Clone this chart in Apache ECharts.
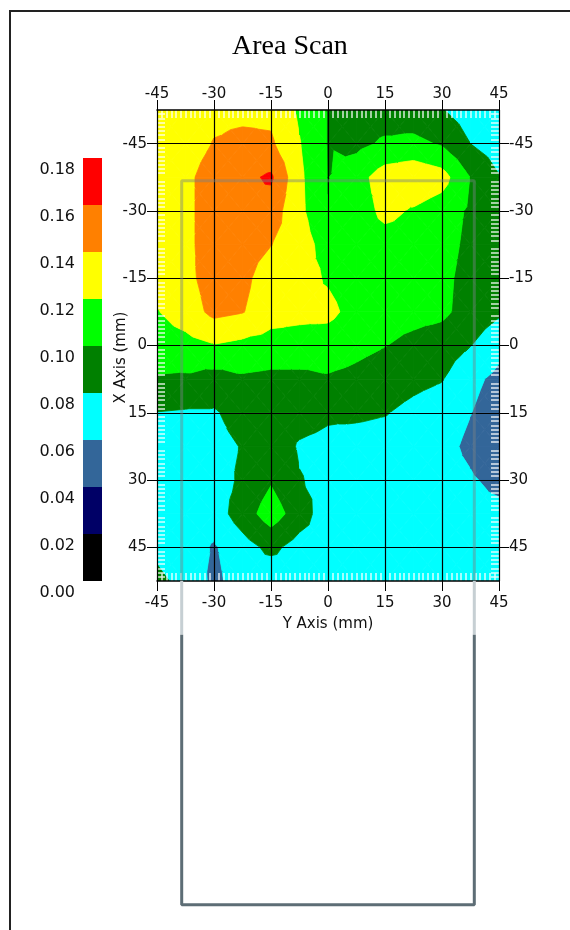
<!DOCTYPE html>
<html>
<head>
<meta charset="utf-8">
<script src="https://cdn.jsdelivr.net/npm/echarts@6/dist/echarts.min.js"></script>
<style>
html, body { margin: 0; padding: 0; background: #fff; }
#chart { width: 570px; height: 930px; }
</style>
</head>
<body>
<div id="chart"></div>
<script>
// scan grid positions (mm)
const colPos = [-45, -37.5, -30, -22.5, -15, -7.5, 0, 7.5, 15, 22.5, 30, 37.5, 45];
const rowPos = [-52.5, -45, -37.5, -30, -22.5, -15, -7.5, 0, 7.5, 15, 22.5, 30, 37.5, 45, 52.5];

// measured values, one array per scan row (rowPos order), columns follow colPos
const row00 = [0.130, 0.130, 0.135, 0.135, 0.135, 0.117, 0.099, 0.090, 0.090, 0.088, 0.081, 0.070, 0.065];
const row01 = [0.128, 0.130, 0.141, 0.145, 0.143, 0.121, 0.099, 0.095, 0.103, 0.105, 0.098, 0.080, 0.070];
const row02 = [0.130, 0.135, 0.150, 0.155, 0.163, 0.124, 0.0995, 0.112, 0.130, 0.135, 0.128, 0.0995, 0.081];
const row03 = [0.128, 0.135, 0.150, 0.155, 0.150, 0.125, 0.1005, 0.110, 0.125, 0.118, 0.110, 0.097, 0.085];
const row04 = [0.127, 0.135, 0.150, 0.148, 0.1405, 0.130, 0.111, 0.110, 0.112, 0.112, 0.108, 0.095, 0.085];
const row05 = [0.125, 0.135, 0.148, 0.145, 0.130, 0.127, 0.118, 0.110, 0.110, 0.108, 0.105, 0.093, 0.083];
const row06 = [0.119, 0.130, 0.145, 0.141, 0.128, 0.125, 0.125, 0.113, 0.108, 0.106, 0.104, 0.092, 0.083];
const row07 = [0.110, 0.113, 0.119, 0.115, 0.112, 0.112, 0.110, 0.105, 0.1005, 0.095, 0.090, 0.0805, 0.066];
const row08 = [0.098, 0.097, 0.092, 0.097, 0.095, 0.095, 0.098, 0.095, 0.090, 0.085, 0.081, 0.065, 0.055];
const row09 = [0.0795, 0.078, 0.078, 0.088, 0.090, 0.088, 0.083, 0.083, 0.081, 0.075, 0.070, 0.0605, 0.050];
const row10 = [0.075, 0.072, 0.074, 0.081, 0.092, 0.078, 0.075, 0.073, 0.072, 0.070, 0.066, 0.056, 0.045];
const row11 = [0.072, 0.070, 0.072, 0.083, 0.098, 0.081, 0.075, 0.072, 0.071, 0.070, 0.068, 0.062, 0.055];
const row12 = [0.070, 0.070, 0.070, 0.090, 0.110, 0.090, 0.068, 0.070, 0.070, 0.070, 0.069, 0.066, 0.065];
const row13 = [0.077, 0.070, 0.058, 0.072, 0.085, 0.072, 0.070, 0.070, 0.070, 0.070, 0.070, 0.070, 0.068];
const row14 = [0.083, 0.076, 0.055, 0.070, 0.065, 0.070, 0.070, 0.070, 0.070, 0.070, 0.070, 0.070, 0.070];
const scanRows = [row00, row01, row02, row03, row04, row05, row06, row07,
                  row08, row09, row10, row11, row12, row13, row14];

// contour levels and band colours (legend)
const levels = [0, 0.02, 0.04, 0.06, 0.08, 0.10, 0.12, 0.14, 0.16, 0.18];
const levelColors = ['#000000', '#000066', '#336699', '#00ffff', '#008000',
                     '#00ff00', '#ffff00', '#ff8000', '#ff0000'];

const tickValues = [-45, -30, -15, 0, 15, 30, 45];

// outline of the part under the scan (mm)
const partInside = [[-38.5, 52.5], [-38.5, -36.7], [38.5, -36.7], [38.5, 52.5]];
const partNear = [[-38.5, 52.5], [-38.5, 64.5], '-', [38.5, 52.5], [38.5, 64.5]];
const partLow = [[-38.5, 64.5], [-38.5, 124.7], [38.5, 124.7], [38.5, 64.5]];

const cells = [];
for (let r = 0; r < rowPos.length - 1; r++) {
    for (let c = 0; c < colPos.length - 1; c++) {
        cells.push([colPos[c], rowPos[r], c, r]);
    }
}
const bands = levelColors.map((col, k) => [0, levels[k], levels[k + 1], k]);

// keep the part of a polygon (points [x, y, v]) above / below level t
function clip(poly, t, keepAbove) {
    const out = [];
    const n = poly.length;
    for (let i = 0; i < n; i++) {
        const a = poly[i], b = poly[(i + 1) % n];
        const ina = keepAbove ? a[2] >= t : a[2] < t;
        const inb = keepAbove ? b[2] >= t : b[2] < t;
        if (ina) out.push(a);
        if (ina !== inb) {
            const f = (t - a[2]) / (b[2] - a[2]);
            out.push([a[0] + f * (b[0] - a[0]), a[1] + f * (b[1] - a[1]), t]);
        }
    }
    return out;
}

function renderCell(params, api) {
    const c = api.value(2), r = api.value(3);
    const pt = (ci, ri) => [colPos[ci], rowPos[ri], scanRows[ri][ci]];
    const p00 = pt(c, r), p10 = pt(c + 1, r), p11 = pt(c + 1, r + 1), p01 = pt(c, r + 1);
    const mid = [(p00[0] + p11[0]) / 2, (p00[1] + p11[1]) / 2,
                 (p00[2] + p10[2] + p11[2] + p01[2]) / 4];
    const tris = [[p00, p10, mid], [p10, p11, mid], [p11, p01, mid], [p01, p00, mid]];
    const children = [];
    tris.forEach(tri => {
        for (let k = 0; k < levelColors.length; k++) {
            let poly = clip(tri, levels[k], true);
            if (k < levelColors.length - 1) poly = clip(poly, levels[k + 1], false);
            if (poly.length < 3) continue;
            children.push({
                type: 'polygon',
                shape: { points: poly.map(p => api.coord([p[0], p[1]])) },
                style: { fill: levelColors[k], stroke: levelColors[k], lineWidth: 0.8 }
            });
        }
    });
    return { type: 'group', children: children };
}

function renderBand(params, api) {
    const top = api.coord([0, api.value(2)]);
    const bottom = api.coord([1, api.value(1)]);
    return {
        type: 'rect',
        shape: { x: top[0], y: top[1], width: bottom[0] - top[0], height: bottom[1] - top[1] },
        style: { fill: levelColors[api.value(3)] }
    };
}

const labelFont = { fontFamily: 'DejaVu Sans', fontSize: 15, color: '#111' };
const rugStyle = { color: 'rgba(255,255,255,0.85)', width: 1.5 };

function mainX(pos) {
    return {
        gridIndex: 0, type: 'value', position: pos, min: -45, max: 45, interval: 15, z: 5,
        axisLine: { onZero: false, lineStyle: { color: '#000', width: 1.5 } },
        axisTick: { length: 10, lineStyle: { color: '#000' } },
        axisLabel: Object.assign({ margin: pos === 'top' ? 8 : 15 }, labelFont),
        splitLine: { show: pos === 'bottom', lineStyle: { color: '#000', width: 1.2 } }
    };
}
function mainY(pos) {
    return {
        gridIndex: 0, type: 'value', position: pos, min: -52.5, max: 52.5, interval: 7.5,
        inverse: true, z: 5,
        axisLine: { onZero: false, lineStyle: { color: '#000', width: 1 } },
        axisTick: { length: 10, customValues: tickValues, lineStyle: { color: '#000' } },
        axisLabel: Object.assign({ margin: 10, customValues: tickValues }, labelFont),
        splitLine: { show: pos === 'left', lineStyle: { color: '#000', width: 1.2 } }
    };
}
function rugX(pos) {
    return {
        gridIndex: 0, type: 'value', position: pos, min: -45, max: 45, interval: 15, z: 4,
        axisLine: { show: false, onZero: false }, axisLabel: { show: false },
        splitLine: { show: false }, axisTick: { show: false, inside: true },
        minorTick: { show: true, splitNumber: 12, length: 8, lineStyle: rugStyle }
    };
}
function rugY(pos) {
    return {
        gridIndex: 0, type: 'value', position: pos, min: -52.5, max: 52.5, interval: 7.5,
        inverse: true, z: 4,
        axisLine: { show: false, onZero: false }, axisLabel: { show: false },
        splitLine: { show: false }, axisTick: { show: false, inside: true },
        minorTick: { show: true, splitNumber: 8, length: 8, lineStyle: rugStyle }
    };
}

const xBottom = mainX('bottom');
xBottom.name = 'Y Axis (mm)';
xBottom.nameLocation = 'middle';
xBottom.nameGap = 36;
xBottom.nameMoveOverlap = false;
xBottom.nameTextStyle = labelFont;
const yLeft = mainY('left');
yLeft.name = 'X Axis (mm)';
yLeft.nameLocation = 'middle';
yLeft.nameRotate = 90;
yLeft.nameGap = 28;
yLeft.nameMoveOverlap = false;
yLeft.nameTextStyle = Object.assign({ padding: [0, 24, 0, 0] }, labelFont);

const option = {
    animation: false,
    backgroundColor: '#fff',
    title: {
        text: 'Area Scan', left: 227, top: 28,
        textStyle: { fontFamily: 'Liberation Serif', fontSize: 28, fontWeight: 'normal', color: '#000' }
    },
    grid: [
        { left: 157, top: 110, width: 342, height: 471, outerBoundsMode: 'none' },
        { left: 83, top: 158, width: 19, height: 423, outerBoundsMode: 'none' }
    ],
    xAxis: [
        xBottom, mainX('top'), rugX('bottom'), rugX('top'),
        { gridIndex: 1, type: 'value', min: 0, max: 1, show: false }
    ],
    yAxis: [
        yLeft, mainY('right'), rugY('left'), rugY('right'),
        {
            gridIndex: 1, type: 'value', min: 0, max: 0.18, interval: 0.02,
            axisLine: { show: false }, axisTick: { show: false }, splitLine: { show: false },
            axisLabel: {
                margin: 8, verticalAlign: 'top', padding: [4, 0, 0, 0],
                fontFamily: 'DejaVu Sans', fontSize: 16, color: '#111',
                formatter: v => v.toFixed(2)
            }
        }
    ],
    graphic: [{
        type: 'polyline', z: 10,
        shape: { points: [[10, 930], [10, 11], [570, 11]] },
        style: { stroke: '#222', lineWidth: 2, fill: null }
    }],
    series: [
        {
            type: 'custom', xAxisIndex: 0, yAxisIndex: 0, z: 1, clip: true, silent: true,
            renderItem: renderCell, encode: { x: 0, y: 1 }, data: cells
        },
        {
            type: 'custom', xAxisIndex: 4, yAxisIndex: 4, silent: true,
            renderItem: renderBand, encode: { x: 0, y: [1, 2] }, data: bands
        },
        {
            type: 'line', xAxisIndex: 0, yAxisIndex: 0, clip: false, z: 6, silent: true,
            symbol: 'none', data: partInside,
            lineStyle: { color: 'rgba(120,128,132,0.45)', width: 3 }
        },
        {
            type: 'line', xAxisIndex: 0, yAxisIndex: 0, clip: false, z: 6, silent: true,
            symbol: 'none', data: partNear, connectNulls: false,
            lineStyle: { color: '#c6cfd3', width: 3 }
        },
        {
            type: 'line', xAxisIndex: 0, yAxisIndex: 0, clip: false, z: 6, silent: true,
            symbol: 'none', data: partLow,
            lineStyle: { color: '#5d6d75', width: 3 }
        }
    ]
};

const chart = echarts.init(document.getElementById('chart'));
chart.setOption(option);
</script>
</body>
</html>
